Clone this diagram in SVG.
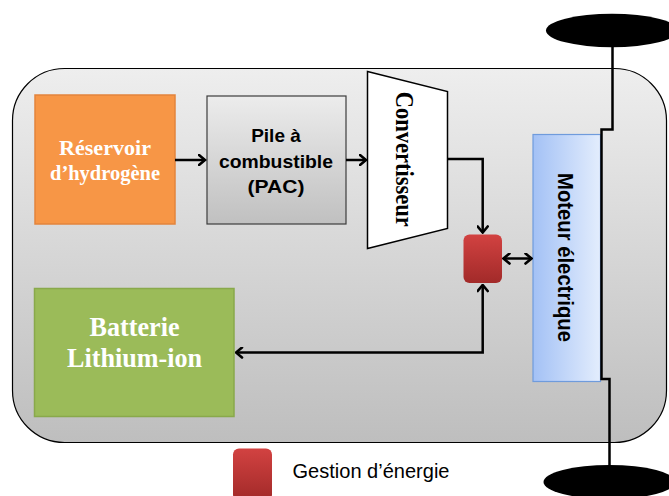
<svg xmlns="http://www.w3.org/2000/svg" width="669" height="496" viewBox="0 0 669 496">
<defs>
<linearGradient id="gOuter" x1="0" y1="0" x2="0" y2="1"><stop offset="0" stop-color="#EEEEEE"/><stop offset="1" stop-color="#BEBEBE"/></linearGradient>
<linearGradient id="gPac" x1="0" y1="0" x2="0" y2="1"><stop offset="0" stop-color="#ECECEC"/><stop offset="1" stop-color="#C0C0C0"/></linearGradient>
<linearGradient id="gRed" x1="0" y1="0" x2="0" y2="1"><stop offset="0" stop-color="#D24241"/><stop offset="1" stop-color="#A22A29"/></linearGradient>
<linearGradient id="gMot" x1="0" y1="0" x2="1" y2="0"><stop offset="0" stop-color="#A3C1F5"/><stop offset="1" stop-color="#E3EDFD"/></linearGradient>
<marker id="arr" viewBox="0 0 9 12" markerWidth="9" markerHeight="12" refX="7.5" refY="6" orient="auto-start-reverse" markerUnits="userSpaceOnUse">
<path d="M1.5,1 L7.5,6 L1.5,11" fill="none" stroke="#000" stroke-width="2.6" stroke-linecap="round" stroke-linejoin="miter"/>
</marker>
</defs>
<style>
.conn{fill:none;stroke:#000;stroke-width:2.5}
.serifw{font-family:"Liberation Serif","Times New Roman",serif;font-weight:bold;fill:#fff;text-anchor:middle}
.sansb{font-family:"Liberation Sans",Arial,sans-serif;font-weight:bold;fill:#000;text-anchor:middle}
.wheel{fill:#000}
</style>
<g id="chassis">
<rect x="12.5" y="68.5" width="654" height="374" rx="52" ry="52" fill="url(#gOuter)" stroke="#000" stroke-width="1.2"/>
</g>
<g id="reservoir">
<rect x="35" y="95" width="140" height="129" fill="#F79646" stroke="#E3843C" stroke-width="1.5"/>
<text class="serifw" x="105" y="155" font-size="21" textLength="92" lengthAdjust="spacingAndGlyphs">Réservoir</text>
<text class="serifw" x="105" y="180" font-size="21" textLength="110" lengthAdjust="spacingAndGlyphs">d’hydrogène</text>
</g>
<g id="pac">
<rect x="207" y="96" width="139" height="128" fill="url(#gPac)" stroke="#3C3C3C" stroke-width="1.2"/>
<text class="sansb" x="276" y="141.5" font-size="19">Pile à</text>
<text class="sansb" x="276" y="167.5" font-size="19" textLength="114" lengthAdjust="spacingAndGlyphs">combustible</text>
<text class="sansb" x="276" y="192.5" font-size="19" textLength="57" lengthAdjust="spacingAndGlyphs">(PAC)</text>
</g>
<g id="convertisseur">
<polygon points="367.5,71.5 447.5,91.5 447.5,228.5 367.5,248.5" fill="#fff" stroke="#000" stroke-width="1.5"/>
<text class="sansb" transform="translate(395.5,159.2) rotate(90)" x="0" y="0" font-size="25" textLength="135" lengthAdjust="spacingAndGlyphs" style="font-family:'Liberation Serif','Times New Roman',serif">Convertisseur</text>
</g>
<g id="gestion">
<rect x="463.5" y="234.5" width="38.5" height="48.5" rx="6" ry="6" fill="url(#gRed)"/>
</g>
<g id="moteur">
<rect x="533" y="134.5" width="67.5" height="247" fill="url(#gMot)" stroke="#6F9BDC" stroke-width="1.2"/>
<text class="sansb" transform="translate(557.5,257.5) rotate(90)" x="0" y="0" font-size="22" textLength="169" lengthAdjust="spacingAndGlyphs">Moteur électrique</text>
</g>
<g id="batterie">
<rect x="34.5" y="288.5" width="199.5" height="128" fill="#9BBB59" stroke="#89A94B" stroke-width="1.5"/>
<text class="serifw" x="134.5" y="336" font-size="27" textLength="90" lengthAdjust="spacingAndGlyphs">Batterie</text>
<text class="serifw" x="134.5" y="367" font-size="27" textLength="135" lengthAdjust="spacingAndGlyphs">Lithium-ion</text>
</g>
<g id="connectors">
<path class="conn" d="M175,160 H205" marker-end="url(#arr)"/>
<path class="conn" d="M346,160 H366" marker-end="url(#arr)"/>
<path class="conn" d="M447.5,159 H482.7 V232.5" marker-end="url(#arr)"/>
<path class="conn" d="M503.5,258.5 H531.5" marker-start="url(#arr)" marker-end="url(#arr)"/>
<path class="conn" d="M482.7,285 V352.5 H236" marker-start="url(#arr)" marker-end="url(#arr)"/>
<path class="conn" d="M612.5,46 V129.5 H601.5 V379 H609.5 V466"/>
</g>
<g id="roue-avant">
<ellipse class="wheel" cx="612" cy="30.5" rx="66" ry="16.7"/>
</g>
<g id="roue-arriere">
<ellipse class="wheel" cx="609.5" cy="482" rx="66" ry="17"/>
</g>
<g id="legende">
<rect x="233" y="448.5" width="39" height="52" rx="6" ry="6" fill="url(#gRed)"/>
<text x="292.5" y="477.5" font-family="'Liberation Sans',Arial,sans-serif" font-size="20" fill="#000" textLength="157" lengthAdjust="spacingAndGlyphs">Gestion d’énergie</text>
</g>
</svg>
